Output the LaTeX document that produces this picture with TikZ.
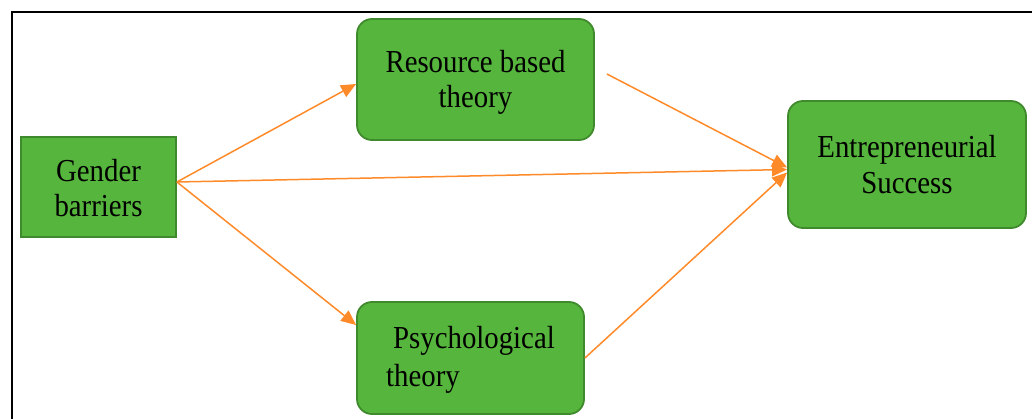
\documentclass[tikz,border=0pt]{standalone}
\usepackage{fontspec}
\setmainfont{Liberation Serif}[FakeStretch=0.9]
\usetikzlibrary{arrows.meta}
\definecolor{boxgreen}{HTML}{56B53C}
\definecolor{boxedge}{HTML}{3F8A2C}
\definecolor{arrorange}{HTML}{FF8A2A}
\tikzset{
  box/.style={draw=boxedge, fill=boxgreen, line width=1.8pt, inner sep=0pt,
    align=center, font=\fontsize{32}{35}\selectfont, text=black, text depth=0pt},
  rbox/.style={box, rounded corners=15pt},
  conn/.style={draw=arrorange, line width=1.5pt, -{Triangle[length=15pt,width=13pt]}},
}
\begin{document}
\begin{tikzpicture}[x=1pt,y=-1pt]
\useasboundingbox (0,0) rectangle (1032,419);
\draw[line width=1.6pt, black] (12,419) -- (12,12) -- (1032,12);

\node[box, minimum width=155pt, minimum height=100pt, text height=60pt] (G) at (98.5,187) {Gender\\barriers};
\node[rbox, minimum width=237pt, minimum height=121pt, text height=57pt] (R) at (475.5,79.5) {Resource based\\theory};
\node[rbox, minimum width=238pt, minimum height=127pt, text height=59pt, font=\fontsize{32}{36}\selectfont] (E) at (907,164.5) {Entrepreneurial\\Success};
\node[rbox, minimum width=227pt, minimum height=112pt, align=left, text height=56pt, font=\fontsize{32}{38}\selectfont] (P) at (470.5,358) {\hspace{7pt}Psychological\\theory};

\draw[conn] ([yshift=5pt]G.east) -- ([yshift=-4.5pt]R.west);
\draw[conn] ([yshift=5pt]G.east) -- ([yshift=-5pt]E.west);
\draw[conn] ([yshift=5pt]G.east) -- ([yshift=33pt]P.west);
\draw[conn] ([xshift=12pt,yshift=5.5pt]R.east) -- ([yshift=-3pt]E.west);
\draw[conn] (P.east) -- ([yshift=-8pt]E.west);
\end{tikzpicture}
\end{document}
